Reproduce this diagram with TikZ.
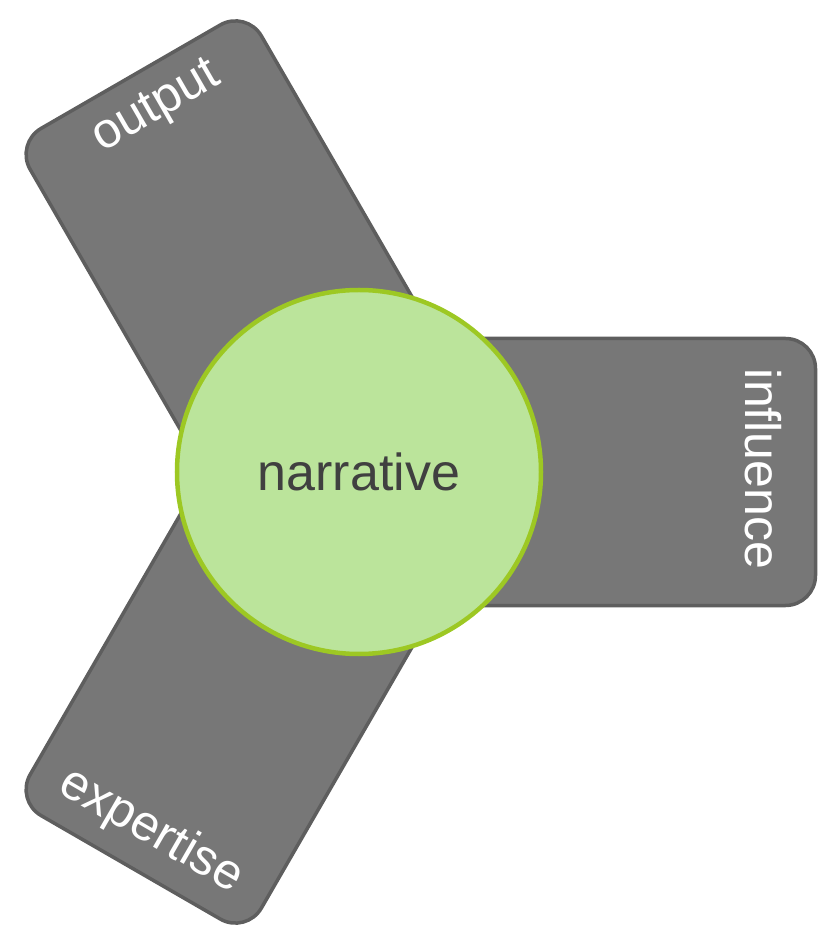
\documentclass[tikz,border=0pt]{standalone}
\usepackage{fontspec}
\setmainfont{Liberation Sans}
\definecolor{armfill}{HTML}{777777}
\definecolor{armline}{HTML}{5E5E5E}
\definecolor{hubfill}{HTML}{BBE49B}
\definecolor{hubline}{HTML}{9DC823}
\definecolor{hubtext}{HTML}{404040}
\begin{document}
\begin{tikzpicture}[x=1pt,y=1pt,
  arm/.style={fill=armfill,draw=armline,line width=3.5pt,rounded corners=30pt},
  armlabel/.style={text=white,inner sep=0pt,font=\fontsize{50}{60}\selectfont},
  hub/.style={circle,fill=hubfill,draw=hubline,line width=4.5pt,minimum size=364pt,inner sep=0pt,
    text=hubtext,font=\fontsize{52}{62}\selectfont}]
\useasboundingbox (-359,-459) rectangle (458,472);
% arms
\draw[arm,rotate=120] (0,-133.5) rectangle (456.5,133.5);
\draw[arm,rotate=240] (0,-133.5) rectangle (456.5,133.5);
\draw[arm] (0,-133.5) rectangle (456.5,133.5);
\node[armlabel,rotate=30] (output) at (-202,364) {output};
\node[armlabel,rotate=-30] (expertise) at (-208,-359) {expertise};
\node[armlabel,rotate=-90] (influence) at (404,3) {influence};
\node[hub] (narrative) at (0,0) {narrative};
\end{tikzpicture}
\end{document}
